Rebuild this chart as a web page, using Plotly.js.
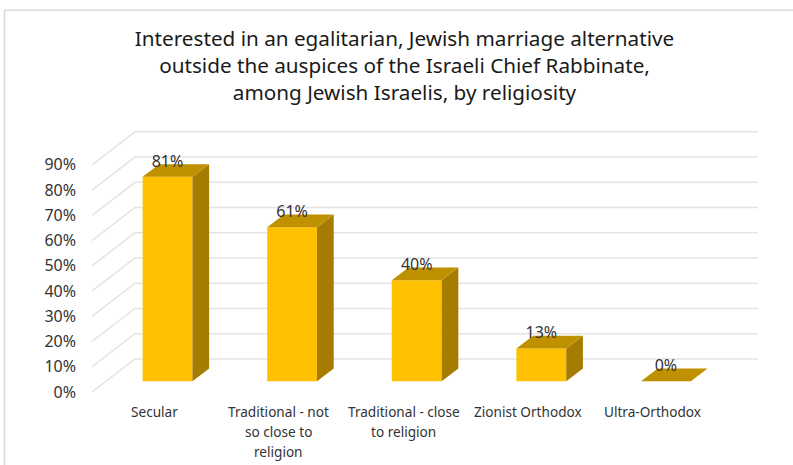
<!DOCTYPE html>
<html>
<head>
<meta charset="utf-8">
<script src="https://cdn.plot.ly/plotly-3.0.1.min.js"></script>
<style>html,body{margin:0;padding:0;background:#fff;overflow:hidden}</style>
</head>
<body>
<div id="chart" style="width:793px;height:465px"></div>
<script>
// Survey results by religiosity
const categoryLines = [
  ["Secular"],
  ["Traditional - not", "so close to", "religion"],
  ["Traditional - close", "to religion"],
  ["Zionist Orthodox"],
  ["Ultra-Orthodox"]
];
const shares = [81, 61, 40, 13, 0];
const axisTicks = [0, 10, 20, 30, 40, 50, 60, 70, 80, 90];
const titleLines = [
  "Interested in an egalitarian, Jewish marriage alternative",
  "outside the auspices of the Israeli Chief Rabbinate,",
  "among Jewish Israelis, by religiosity"
];

// Canvas and oblique-projection settings (x in category units, y in percentage points)
const W = 793, H = 465;
const margin = {l: 92, r: 35, t: 125, b: 73.3};
const xRange = [-0.5, 4.845];
const yRange = [0, 105.8];
const wallDx = 0.345, wallDy = 13.1;
const barLeft = -0.094, barWidth = 0.4, floorLift = 4.25;
const barDx = 0.134, barDy = 5.04;
const labelLift = 2.4;

const fontFamily = "'Noto Sans', sans-serif";
const xs = shares.map((_, i) => i);

// Wall and back-plane gridlines, kept beneath the bars
const gridLine = {color: "#e4e4e4", width: 1.5};
const gridShapes = axisTicks.map(t => ({
  type: "path", xref: "x", yref: "y", layer: "below", line: gridLine,
  path: `M ${xRange[0]} ${t} L ${xRange[0] + wallDx} ${t + wallDy} L ${xRange[1]} ${t + wallDy}`
}));

// Top and side faces of each bar, sheared from the front face
const topX = [], topY = [], sideX = [], sideY = [];
shares.forEach((v, i) => {
  const x0 = i + barLeft, x1 = x0 + barWidth, yTop = v + floorLift;
  topX.push(x0, x1, x1 + barDx, x0 + barDx, x0, null);
  topY.push(yTop, yTop, yTop + barDy, yTop + barDy, yTop, null);
  if (v > 0) {
    sideX.push(x1, x1 + barDx, x1 + barDx, x1, x1, null);
    sideY.push(floorLift, floorLift + barDy, yTop + barDy, yTop, floorLift, null);
  }
});

const traces = [
  {type: "scatter", mode: "lines", x: sideX, y: sideY, fill: "toself",
   fillcolor: "#a67c00", line: {width: 0}, hoverinfo: "skip"},
  {type: "scatter", mode: "lines", x: topX, y: topY, fill: "toself",
   fillcolor: "#bf9000", line: {width: 0}, hoverinfo: "skip"},
  {type: "bar", x: xs, y: shares, base: floorLift, width: barWidth, offset: barLeft,
   marker: {color: "#ffc000", line: {width: 0}}},
  {type: "scatter", mode: "text", x: xs.map(i => i + barLeft + barWidth / 2),
   y: shares.map(v => v + floorLift + labelLift), text: shares.map(v => v + "%"),
   textposition: "top center", cliponaxis: false, hoverinfo: "skip",
   textfont: {family: fontFamily, size: 16, color: "#333333"}}
];

// Category labels, one annotation per line for the wide line pitch
const annotations = [];
categoryLines.forEach((lines, i) => {
  lines.forEach((line, k) => {
    annotations.push({
      x: i, xref: "x", y: 0, yref: "paper", yanchor: "middle", xanchor: "center",
      yshift: -19.5 - 20 * k, text: line, showarrow: false,
      font: {family: fontFamily, size: 13.6, color: "#333333"}
    });
  });
});

// Chart-area frame along the top and left edges
const plotW = W - margin.l - margin.r, plotH = H - margin.t - margin.b;
const px = p => (p - margin.l) / plotW;
const py = p => 1 - (p - margin.t) / plotH;
const frame = {type: "path", xref: "paper", yref: "paper",
  path: `M ${px(4.5)} ${py(H)} L ${px(4.5)} ${py(10.5)} L ${px(W)} ${py(10.5)}`,
  line: {color: "#d9d9d9", width: 1.5}};

const layout = {
  width: W, height: H, margin: margin, showlegend: false, autosize: false,
  paper_bgcolor: "#ffffff", plot_bgcolor: "rgba(0,0,0,0)",
  title: {text: titleLines.join("<br>"), x: 404.5 / W, xanchor: "center",
          y: 1 - 46 / H, yanchor: "middle",
          font: {family: fontFamily, size: 20.7, color: "#1a1a1a"}},
  xaxis: {range: xRange, showgrid: false, zeroline: false, showline: false,
          showticklabels: false, ticks: "", fixedrange: true},
  yaxis: {range: yRange, tickvals: axisTicks, ticktext: axisTicks.map(t => t + "%"),
          showgrid: false, zeroline: false, showline: false, ticks: "",
          ticklabelstandoff: 15, fixedrange: true,
          tickfont: {family: fontFamily, size: 16, color: "#333333"}},
  annotations: annotations,
  shapes: gridShapes.concat([frame])
};

Plotly.newPlot("chart", traces, layout, {displayModeBar: false, staticPlot: true});
</script>
</body>
</html>
